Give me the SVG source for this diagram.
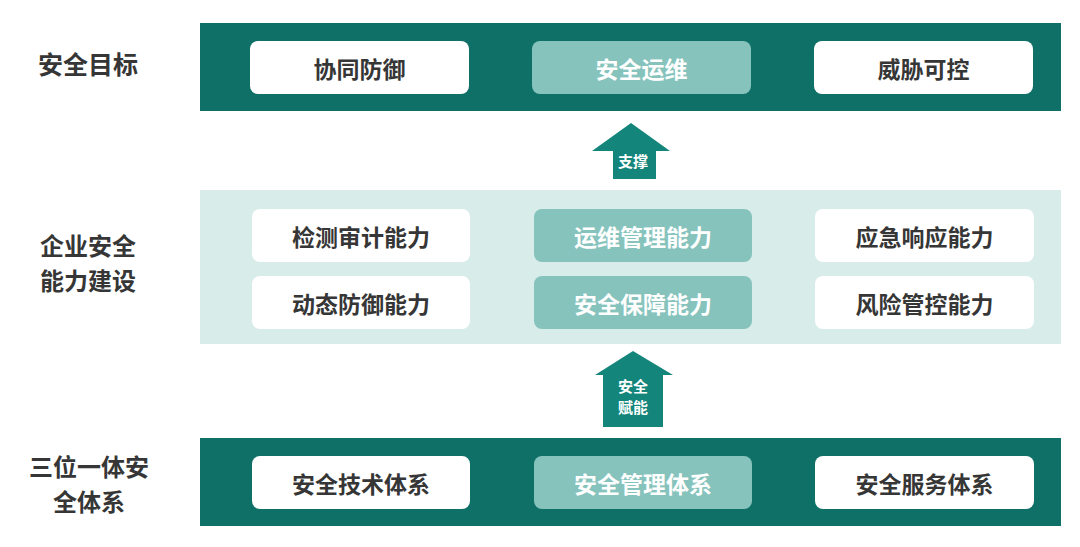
<svg xmlns="http://www.w3.org/2000/svg" width="1080" height="547" viewBox="0 0 1080 547">
  <style>
    text { font-family: "Noto Sans CJK SC", "Noto Sans", sans-serif; font-weight: 700; text-anchor: middle; dominant-baseline: central; }
    .band { fill: #0f7068; }
    .mband { fill: #d8ecea; }
    .wbox { fill: #ffffff; }
    .tbox { fill: #86c3bd; }
    .dark { fill: #363636; font-size: 23px; }
    .light { fill: #ffffff; font-size: 23px; }
    .side { fill: #363636; font-size: 25px; }
    .side2 { fill: #363636; font-size: 24px; }
    .arrow { fill: #13857b; }
    .alabel { fill: #ffffff; font-size: 15px; }
  </style>
  <rect width="1080" height="547" fill="#ffffff"/>

  <g id="label-goal"><text class="side" x="88" y="63">安全目标</text></g>
  <g id="label-capability">
    <text class="side2" x="88" y="244">企业安全</text>
    <text class="side2" x="88" y="279">能力建设</text>
  </g>
  <g id="label-system">
    <text class="side2" x="89" y="465">三位一体安</text>
    <text class="side2" x="89" y="500">全体系</text>
  </g>

  <g id="band-goal"><rect class="band" x="200" y="23" width="861" height="88"/></g>
  <g id="band-capability"><rect class="mband" x="200" y="190" width="861" height="154"/></g>
  <g id="band-system"><rect class="band" x="200" y="438" width="861" height="88"/></g>

  <g id="node-xietong"><rect class="wbox" x="250" y="41" width="219" height="53" rx="8"/><text class="dark" x="359.5" y="67.5">协同防御</text></g>
  <g id="node-anquanyunwei"><rect class="tbox" x="532" y="41" width="219" height="53" rx="8"/><text class="light" x="641.5" y="67.5">安全运维</text></g>
  <g id="node-weixie"><rect class="wbox" x="814" y="41" width="219" height="53" rx="8"/><text class="dark" x="923.5" y="67.5">威胁可控</text></g>

  <g id="node-jiance"><rect class="wbox" x="252" y="209" width="218" height="53" rx="8"/><text class="dark" x="361" y="235.5">检测审计能力</text></g>
  <g id="node-yunwei"><rect class="tbox" x="534" y="209" width="218" height="53" rx="8"/><text class="light" x="643" y="235.5">运维管理能力</text></g>
  <g id="node-yingji"><rect class="wbox" x="815" y="209" width="219" height="53" rx="8"/><text class="dark" x="924.5" y="235.5">应急响应能力</text></g>
  <g id="node-dongtai"><rect class="wbox" x="252" y="276" width="218" height="53" rx="8"/><text class="dark" x="361" y="302.5">动态防御能力</text></g>
  <g id="node-baozhang"><rect class="tbox" x="534" y="276" width="218" height="53" rx="8"/><text class="light" x="643" y="302.5">安全保障能力</text></g>
  <g id="node-fengxian"><rect class="wbox" x="815" y="276" width="219" height="53" rx="8"/><text class="dark" x="924.5" y="302.5">风险管控能力</text></g>

  <g id="node-jishu"><rect class="wbox" x="252" y="456" width="218" height="53" rx="8"/><text class="dark" x="361" y="482.5">安全技术体系</text></g>
  <g id="node-guanli"><rect class="tbox" x="534" y="456" width="218" height="53" rx="8"/><text class="light" x="643" y="482.5">安全管理体系</text></g>
  <g id="node-fuwu"><rect class="wbox" x="815" y="456" width="219" height="53" rx="8"/><text class="dark" x="924.5" y="482.5">安全服务体系</text></g>

  <g id="connectors">
    <g id="arrow-support">
      <polygon class="arrow" points="631,123 670,151 656,151 656,179 613,179 613,151 592,151"/>
      <text class="alabel" x="633" y="160">支撑</text>
    </g>
    <g id="arrow-enable">
      <polygon class="arrow" points="633,351 673,375 663,375 663,427 603,427 603,375 595,375"/>
      <text class="alabel" x="633" y="385">安全</text>
      <text class="alabel" x="633" y="406">赋能</text>
    </g>
  </g>
</svg>
